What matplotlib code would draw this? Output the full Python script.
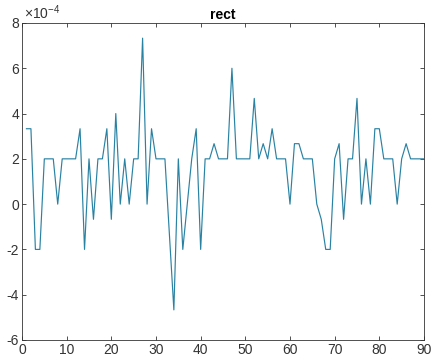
import matplotlib.pyplot as plt
import numpy as np
from matplotlib.ticker import FuncFormatter

plt.rcParams['font.family'] = ['Liberation Sans', 'DejaVu Sans']
plt.rcParams['mathtext.fontset'] = 'custom'
plt.rcParams['mathtext.rm'] = 'Liberation Sans'
plt.rcParams['mathtext.it'] = 'Liberation Sans'

# values in units of 1e-4, sample index 1..90
vals = [3.33, 3.33, -2, -2, 2, 2, 2, 0, 2, 2,
        2, 2, 3.33, -2, 2, -0.67, 2, 2, 3.33, -0.67,
        4, 0, 2, 0, 2, 2, 7.33, 0, 3.33, 2,
        2, 2, -1.33, -4.67, 2, -2, 0, 2, 3.33, -2,
        2, 2, 2.67, 2, 2, 2, 6, 2, 2, 2,
        2, 4.67, 2, 2.67, 2, 3.33, 2, 2, 2, 0,
        2.67, 2.67, 2, 2, 2, 0, -0.67, -2, -2, 2,
        2.67, -0.67, 2, 2, 4.67, 0, 2, 0, 3.33, 3.33,
        2, 2, 2, 0, 2, 2.67, 2, 2, 2, 2]
idx = np.arange(1, len(vals) + 1)
y = np.array(vals) * 1e-4

fig = plt.figure(figsize=(4.33, 3.62), dpi=100)
ax = fig.add_axes([0.0508, 0.0608, 0.9284, 0.8757])
ax.plot(idx, y, color='#2a82a3', linewidth=0.85)

ax.set_xlim(0, 90)
ax.set_ylim(-6e-4, 8e-4)
ax.set_xticks(np.arange(0, 91, 10))
ax.set_yticks(np.arange(-6, 9, 2) * 1e-4)
ax.yaxis.set_major_formatter(FuncFormatter(lambda v, p: '%g' % round(v / 1e-4)))

ax.tick_params(direction='in', top=True, right=True, length=3,
               labelsize=10, colors='#333333', width=0.6, pad=2)
for s in ax.spines.values():
    s.set_color('#333333')
    s.set_linewidth(0.6)

ax.text(0.005, 1.003, '\u00d710$^{-4}$', transform=ax.transAxes,
        fontsize=10, color='#333333', ha='left', va='bottom')
ax.set_title('rect', fontsize=10, fontweight='bold', pad=3)

fig.savefig('out.png', dpi=100)
